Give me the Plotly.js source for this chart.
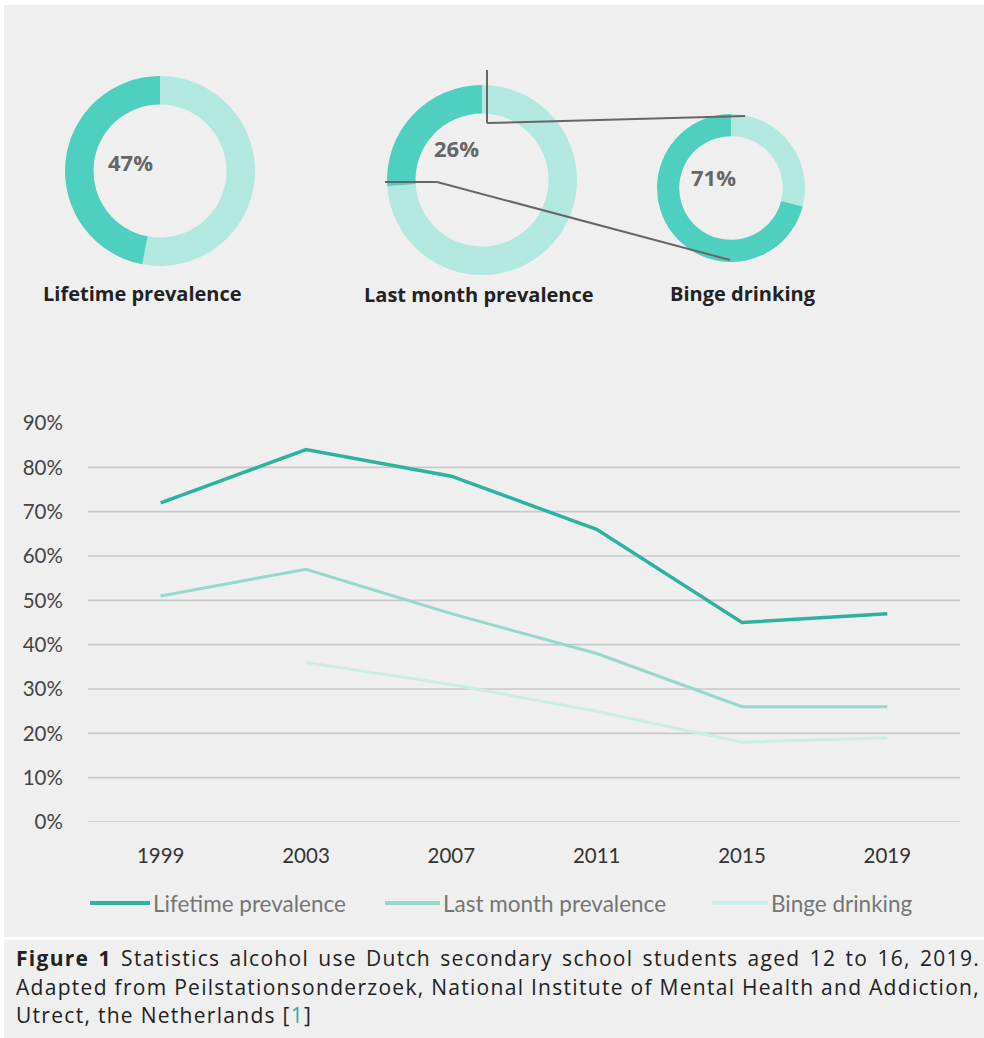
<!DOCTYPE html>
<html>
<head>
<meta charset="utf-8">
<script src="https://cdn.plot.ly/plotly-3.0.1.min.js"></script>
<style>
  html, body { margin: 0; padding: 0; background: #ffffff; }
  #chart { width: 984px; height: 1038px; }
</style>
</head>
<body>
<div id="chart"></div>
<script>
// ---------------- DATA ----------------
const years = ['1999', '2003', '2007', '2011', '2015', '2019'];
const seriesNames = ['Lifetime prevalence', 'Last month prevalence', 'Binge drinking'];
const lifetime = [0.72, 0.84, 0.78, 0.66, 0.45, 0.47];
const lastMonth = [0.51, 0.57, 0.47, 0.38, 0.26, 0.26];
const binge = [null, 0.36, 0.31, 0.25, 0.18, 0.19];
const donutNames = ['Lifetime prevalence', 'Last month prevalence', 'Binge drinking'];
const donutValues = [47, 26, 71];
const yTickVals = [0, 0.1, 0.2, 0.3, 0.4, 0.5, 0.6, 0.7, 0.8, 0.9];
const captionLines = [
  '<b>Figure 1</b> Statistics alcohol use Dutch secondary school students aged 12 to 16, 2019.',
  'Adapted from Peilstationsonderzoek, National Institute of Mental Health and Addiction,',
  'Utrect, the Netherlands [<span style="color:#1fb3a6">1</span>]'
];

// ---------------- STYLE ----------------
const W = 984, H = 1038;
const px = x => x / W;
const py = y => 1 - y / H;
const lineColors = ['#2db2a0', '#94d9cb', '#cbede7'];
const lineWidths = [3.5, 3, 3];
const donutDark = '#4fcfbf';
const donutLight = '#b2e8df';
const bg = '#efefef';

// ---------------- TRACES ----------------
const traces = [];
const seriesData = [lifetime, lastMonth, binge];
seriesData.forEach((ys, i) => {
  traces.push({
    type: 'scatter', mode: 'lines', x: years, y: ys, name: seriesNames[i],
    line: { color: lineColors[i], width: lineWidths[i] },
    connectgaps: false, showlegend: false, hoverinfo: 'skip',
    xaxis: 'x', yaxis: 'y'
  });
});

const donutBoxes = [
  { cx: 160, cy: 171, r: 95 },
  { cx: 482, cy: 180, r: 95 },
  { cx: 731, cy: 188, r: 74 }
];
const donutLabelPos = [ [130, 162], [456, 148], [713, 177] ];
const donutTitlePos = [ [142, 293], [479, 294], [743, 293] ];

donutValues.forEach((v, i) => {
  const b = donutBoxes[i];
  traces.push({
    type: 'pie', values: [100 - v, v], labels: [donutNames[i] + ' no', donutNames[i] + ' yes'],
    hole: 0.70, sort: false, direction: 'clockwise', rotation: 0,
    textinfo: 'none', hoverinfo: 'skip', showlegend: false,
    marker: { colors: [donutLight, donutDark], line: { width: 0 } },
    domain: { x: [px(b.cx - b.r), px(b.cx + b.r)], y: [py(b.cy + b.r), py(b.cy - b.r)] }
  });
});

// ---------------- SHAPES ----------------
const shapes = [];
shapes.push({ type: 'rect', xref: 'paper', yref: 'paper', x0: px(4), x1: 1, y0: py(937), y1: py(5),
  fillcolor: bg, line: { width: 0 }, layer: 'below' });
shapes.push({ type: 'rect', xref: 'paper', yref: 'paper', x0: px(4), x1: 1, y0: 0, y1: py(940),
  fillcolor: bg, line: { width: 0 }, layer: 'below' });
yTickVals.slice(0, -1).forEach(v => {
  shapes.push({ type: 'line', xref: 'x domain', yref: 'y', x0: 0, x1: 1, y0: v, y1: v,
    line: { color: '#c9c9c9', width: 1.6 }, layer: 'below' });
});
const conn = [
  [[487, 70], [487, 123], [745, 116]],
  [[385, 182], [437, 182], [730, 260]]
];
conn.forEach(pts => {
  for (let k = 0; k < pts.length - 1; k++) {
    shapes.push({ type: 'line', xref: 'paper', yref: 'paper',
      x0: px(pts[k][0]), y0: py(pts[k][1]), x1: px(pts[k + 1][0]), y1: py(pts[k + 1][1]),
      line: { color: '#666666', width: 2 } });
  }
});
const legendPos = [ [90, 150], [385, 440], [712, 768] ];
const legendY = 903;
legendPos.forEach((p, i) => {
  shapes.push({ type: 'line', xref: 'paper', yref: 'paper', x0: px(p[0]), x1: px(p[1]),
    y0: py(legendY), y1: py(legendY), line: { color: lineColors[i], width: 4 } });
});

// ---------------- ANNOTATIONS ----------------
const annotations = [];
donutValues.forEach((v, i) => {
  annotations.push({ xref: 'paper', yref: 'paper', x: px(donutLabelPos[i][0]), y: py(donutLabelPos[i][1]),
    text: '<b>' + v + '%</b>', showarrow: false, xanchor: 'center', yanchor: 'middle',
    font: { family: 'Open Sans, sans-serif', size: 22, color: '#666666' } });
  annotations.push({ xref: 'paper', yref: 'paper', x: px(donutTitlePos[i][0]), y: py(donutTitlePos[i][1]),
    text: '<b>' + donutNames[i] + '</b>', showarrow: false, xanchor: 'center', yanchor: 'middle',
    font: { family: 'Open Sans, sans-serif', size: 20, color: '#222222' } });
});
seriesNames.forEach((n, i) => {
  annotations.push({ xref: 'paper', yref: 'paper', x: px(legendPos[i][1] + 1), y: py(legendY),
    text: n, showarrow: false, xanchor: 'left', yanchor: 'middle',
    font: { family: 'Lato, sans-serif', size: 22.5, color: '#757575' } });
});
const capY = [958, 987, 1015];
captionLines.forEach((t, i) => {
  annotations.push({ xref: 'paper', yref: 'paper', x: px(14), y: py(capY[i]),
    text: t, showarrow: false, xanchor: 'left', yanchor: 'middle', align: 'left',
    font: { family: 'Open Sans, sans-serif', size: 21, color: '#222222' } });
});

// ---------------- LAYOUT ----------------
const layout = {
  width: W, height: H,
  margin: { l: 0, r: 0, t: 0, b: 0 },
  paper_bgcolor: '#ffffff',
  plot_bgcolor: 'rgba(0,0,0,0)',
  showlegend: false,
  xaxis: {
    type: 'category', domain: [px(88), px(960)], range: [-0.5, 5.5],
    showgrid: false, zeroline: false, showline: false,
    ticks: 'outside', ticklen: 15, tickcolor: 'rgba(0,0,0,0)',
    tickfont: { family: 'Lato, sans-serif', size: 20.5, color: '#333333' },
    fixedrange: true
  },
  yaxis: {
    domain: [py(822), py(423)], range: [0, 0.9],
    tickvals: yTickVals, tickformat: '.0%',
    showgrid: false, zeroline: false, showline: false,
    ticks: 'outside', ticklen: 20, tickcolor: 'rgba(0,0,0,0)',
    tickfont: { family: 'Lato, sans-serif', size: 20.5, color: '#444444' },
    fixedrange: true
  },
  shapes: shapes,
  annotations: annotations
};

Plotly.newPlot('chart', traces, layout, { staticPlot: true, displayModeBar: false }).then(gd => {
  const target = 978 - 14;
  const caps = [];
  gd.querySelectorAll('text.annotation-text').forEach(t => {
    const s = t.textContent;
    if (s.startsWith('Figure 1') || s.startsWith('Adapted from') || s.startsWith('Utrect')) caps.push(t);
  });
  const width = t => t.getBBox().width;
  // letter spacing so that the second line fills the width
  const second = caps.find(t => t.textContent.startsWith('Adapted'));
  if (second) {
    const w = width(second);
    const n = second.textContent.length;
    const ls = Math.max(-1, Math.min(1.5, (target - w) / n));
    caps.forEach(t => { t.style.letterSpacing = ls + 'px'; });
  }
  // justify the first two lines with word spacing for whatever remains
  caps.forEach(t => {
    const s = t.textContent;
    if (s.startsWith('Figure 1') || s.startsWith('Adapted')) {
      const w = width(t);
      const n = (s.match(/ /g) || []).length;
      t.style.wordSpacing = ((target - w) / n) + 'px';
    }
  });
});
</script>
</body>
</html>
